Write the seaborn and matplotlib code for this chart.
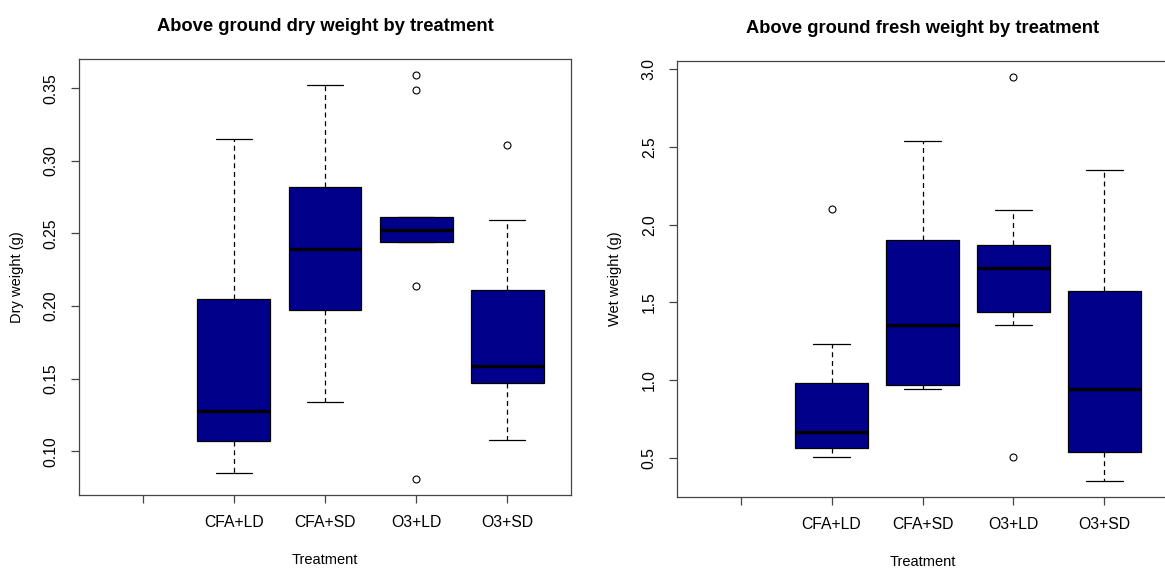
import pandas as pd
import numpy as np
import seaborn as sns
import matplotlib.pyplot as plt

# treatments; the first slot on the axis is an empty level
treatments = ["CFA+LD", "CFA+SD", "O3+LD", "O3+SD"]
slots = [""] + treatments

# above ground dry weight (g), values
dry_cfa_ld = [0.085, 0.107, 0.128, 0.205, 0.315]
dry_cfa_sd = [0.134, 0.197, 0.239, 0.282, 0.352]
dry_o3_ld = [0.081, 0.214, 0.244, 0.244, 0.252, 0.261, 0.261, 0.349, 0.359]
dry_o3_sd = [0.108, 0.147, 0.147, 0.159, 0.159, 0.211, 0.211, 0.259, 0.311]

# above ground fresh weight (g)
wet_cfa_ld = [0.503, 0.562, 0.562, 0.663, 0.663, 0.983, 0.983, 1.234, 2.101]
wet_cfa_sd = [0.944, 0.968, 1.352, 1.899, 2.540]
wet_o3_ld = [0.503, 1.352, 1.436, 1.436, 1.719, 1.867, 1.867, 2.094, 2.950]
wet_o3_sd = [0.348, 0.539, 0.940, 1.573, 2.354]

dry_ticks = [0.10, 0.15, 0.20, 0.25, 0.30, 0.35]
wet_ticks = [0.5, 1.0, 1.5, 2.0, 2.5, 3.0]


def long_form(groups, col):
    rows = []
    for name, vals in zip(treatments, groups):
        for v in vals:
            rows.append({"Treatment": name, col: v})
    return pd.DataFrame(rows)


dry_df = long_form([dry_cfa_ld, dry_cfa_sd, dry_o3_ld, dry_o3_sd], "Dry")
wet_df = long_form([wet_cfa_ld, wet_cfa_sd, wet_o3_ld, wet_o3_sd], "Wet")

sns.set_style("ticks")
plt.rcParams['font.family'] = ['Liberation Sans', 'DejaVu Sans']
plt.rcParams['text.color'] = 'black'
plt.rcParams['axes.labelcolor'] = 'black'
plt.rcParams['xtick.labelcolor'] = 'black'
plt.rcParams['ytick.labelcolor'] = 'black'

box_blue = "#00008B"
frame = "#444444"


def draw(ax, df, col, title, ylabel, ylim, yticks, fmt):
    sns.boxplot(
        data=df, x="Treatment", y=col, order=slots, ax=ax,
        color=box_blue, linecolor="black", saturation=1, width=0.8,
        linewidth=0.9,
        whiskerprops=dict(linestyle=(0, (4, 3)), color="black"),
        capprops=dict(color="black"),
        medianprops=dict(color="black", linewidth=2.4),
        flierprops=dict(marker="o", markerfacecolor="none",
                        markeredgecolor="black", markersize=5,
                        markeredgewidth=0.8),
    )
    ax.set_xlim(-0.7, 4.7)
    ax.set_ylim(*ylim)
    ax.set_yticks(yticks)
    ax.set_yticklabels([fmt.format(t) for t in yticks], rotation=90,
                       va="center")
    ax.set_title(title, fontsize=13.2, fontweight="bold", pad=20,
                 color="black")
    ax.set_xlabel("Treatment", fontsize=10.5)
    ax.set_ylabel(ylabel, fontsize=10.5)
    ax.xaxis.set_label_coords(0.5, -0.133)
    ax.yaxis.set_label_coords(-0.112, 0.5)
    ax.tick_params(length=6, width=0.9, color=frame, labelsize=11.3,
                   pad=8.5)
    for s in ax.spines.values():
        s.set_color(frame)
        s.set_linewidth(0.9)


fig = plt.figure(figsize=(11.65, 5.69), dpi=100)
ax1 = fig.add_axes([0.0678, 0.1301, 0.4223, 0.7663])
ax2 = fig.add_axes([0.5811, 0.1265, 0.4215, 0.7663])

draw(ax1, dry_df, "Dry", "Above ground dry weight by treatment",
     "Dry weight (g)", (0.0699, 0.3701), dry_ticks, "{:.2f}")
draw(ax2, wet_df, "Wet", "Above ground fresh weight by treatment",
     "Wet weight (g)", (0.246, 3.054), wet_ticks, "{:.1f}")

fig.savefig("out.png", dpi=100)
